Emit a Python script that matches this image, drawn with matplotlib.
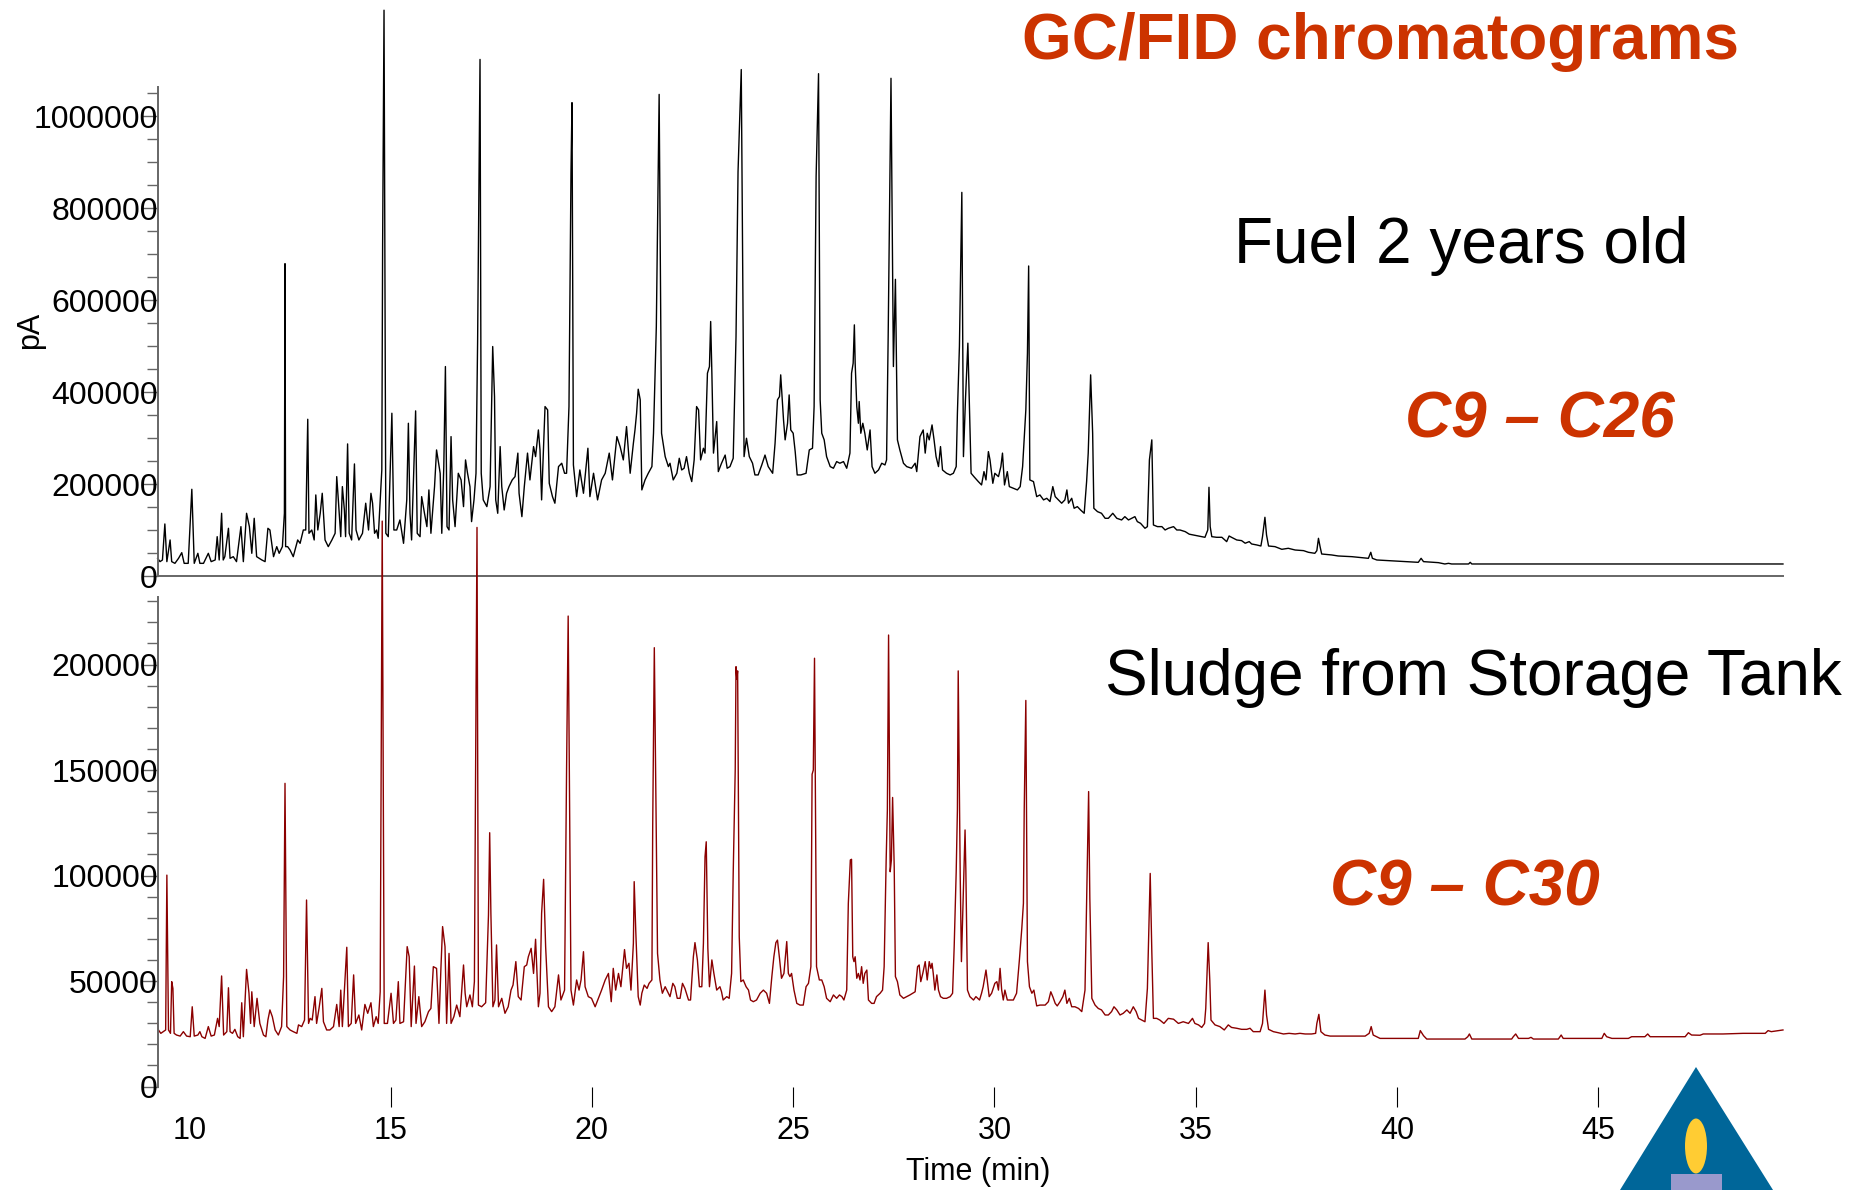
import numpy as np
import matplotlib.pyplot as plt
from matplotlib.patches import Polygon, Ellipse, Rectangle

plt.rcParams['font.family'] = ['Liberation Sans', 'DejaVu Sans']

# Fuel 2 years old: (retention time in min, signal in thousands of pA)
fuel_points = [
    (9.21, 39.5), (9.27, 32.3), (9.33, 35.9), (9.39, 114.2), (9.44, 32.3), (9.52, 79.4),
    (9.56, 32.3), (9.64, 28.6), (9.73, 39.5), (9.81, 51.8), (9.87, 28.6), (9.97, 28.6),
    (10.06, 189.6), (10.12, 28.6), (10.21, 50.4), (10.26, 28.6), (10.35, 28.6), (10.47, 50.4),
    (10.54, 32.3), (10.64, 35.9), (10.69, 86.6), (10.74, 35.9), (10.80, 137.4), (10.84, 35.9),
    (10.88, 43.1), (10.97, 104.8), (11.01, 39.5), (11.09, 43.1), (11.17, 32.3), (11.28, 108.4),
    (11.34, 32.3), (11.42, 137.4), (11.49, 108.4), (11.55, 50.4), (11.61, 126.5), (11.67, 43.1),
    (11.80, 35.9), (11.88, 32.3), (11.95, 104.8), (12.00, 101.1), (12.09, 43.1), (12.17, 64.9),
    (12.23, 50.4), (12.31, 64.9), (12.36, 137.4), (12.375, 680), (12.39, 64.9), (12.44, 64.9),
    (12.50, 57.6), (12.58, 43.1), (12.69, 79.4), (12.75, 72.1), (12.83, 101.1), (12.89, 101.1),
    (12.94, 341.8), (12.97, 93.9), (13.04, 101.1), (13.10, 79.4), (13.14, 177.3), (13.19, 101.1),
    (13.25, 137.4), (13.30, 180.9), (13.37, 79.4), (13.45, 64.9), (13.54, 79.4), (13.62, 93.9),
    (13.66, 217.1), (13.70, 166.5), (13.76, 86.6), (13.80, 195.4), (13.85, 144.6), (13.88, 86.6),
    (13.93, 288.2), (13.97, 93.9), (14.03, 79.4), (14.10, 244.7), (14.14, 101.1), (14.21, 79.4),
    (14.30, 93.9), (14.38, 159.3), (14.45, 101.1), (14.51, 180.9), (14.55, 159.3), (14.60, 93.9),
    (14.65, 101.1), (14.69, 83.0), (14.78, 231.6), (14.80, 720), (14.835, 1231), (14.88, 93.9),
    (14.94, 86.6), (15.03, 354.9), (15.08, 101.1), (15.15, 101.1), (15.23, 122.9), (15.32, 72.1),
    (15.40, 166.5), (15.44, 333.1), (15.48, 137.4), (15.52, 79.4), (15.62, 360.0), (15.66, 93.9),
    (15.73, 86.6), (15.77, 173.6), (15.84, 137.4), (15.90, 108.4), (15.95, 188.2), (16.00, 93.9),
    (16.09, 195.4), (16.14, 275.1), (16.19, 246.2), (16.23, 224.4), (16.27, 93.9), (16.32, 238.9),
    (16.36, 456.4), (16.40, 108.4), (16.45, 101.1), (16.50, 304.1), (16.54, 166.5), (16.60, 108.4),
    (16.68, 224.4), (16.75, 209.9), (16.81, 151.9), (16.86, 253.4), (16.91, 224.4), (16.97, 195.4),
    (17.01, 119.3), (17.07, 166.5), (17.12, 224.4), (17.16, 510.8), (17.22, 1124), (17.25, 224.4),
    (17.30, 166.5), (17.39, 151.9), (17.47, 195.4), (17.535, 499.9), (17.58, 391.1), (17.61, 166.5),
    (17.66, 137.4), (17.72, 282.4), (17.76, 195.4), (17.82, 144.6), (17.88, 180.9), (17.94, 195.4),
    (18.02, 209.9), (18.09, 217.1), (18.16, 268.2), (18.19, 180.9), (18.26, 130.1), (18.32, 195.4),
    (18.40, 268.2), (18.46, 209.9), (18.55, 282.4), (18.60, 260.6), (18.67, 318.6), (18.71, 275.1),
    (18.75, 166.5), (18.835, 369.4), (18.90, 362.1), (18.94, 202.6), (19.02, 173.6), (19.08, 159.3),
    (19.17, 238.9), (19.25, 246.2), (19.32, 224.4), (19.37, 224.4), (19.43, 369.4), (19.48, 879),
    (19.505, 1030), (19.54, 242.5), (19.62, 173.6), (19.70, 231.6), (19.79, 180.9), (19.90, 278.8),
    (19.95, 173.6), (20.04, 224.4), (20.14, 166.5), (20.24, 209.9), (20.33, 224.4), (20.43, 268.2),
    (20.51, 209.9), (20.62, 304.1), (20.70, 282.4), (20.78, 253.4), (20.86, 325.9), (20.95, 224.4),
    (21.03, 289.6), (21.07, 318.6), (21.11, 354.9), (21.15, 407.1), (21.20, 384.1), (21.24, 188.2),
    (21.32, 209.9), (21.40, 224.4), (21.49, 238.9), (21.53, 311.4), (21.60, 543.4), (21.67, 1048),
    (21.73, 311.4), (21.82, 260.6), (21.90, 238.9), (21.94, 246.2), (22.02, 209.9), (22.11, 224.4),
    (22.17, 257.0), (22.23, 231.6), (22.29, 235.3), (22.35, 260.6), (22.42, 224.4), (22.48, 206.3),
    (22.54, 253.4), (22.60, 369.4), (22.65, 362.1), (22.70, 253.4), (22.77, 278.8), (22.81, 268.2),
    (22.87, 441.9), (22.92, 456.4), (22.95, 554.3), (22.98, 441.9), (23.02, 268.2), (23.07, 311.4),
    (23.10, 336.8), (23.14, 228.0), (23.22, 246.2), (23.31, 264.0), (23.36, 235.3), (23.43, 238.9),
    (23.51, 257.0), (23.58, 521.6), (23.63, 880), (23.71, 1102), (23.78, 260.6), (23.84, 300.5),
    (23.91, 260.6), (23.99, 246.2), (24.05, 220.8), (24.13, 220.8), (24.22, 242.5), (24.30, 264.0),
    (24.38, 238.9), (24.49, 224.4), (24.55, 289.6), (24.61, 384.1), (24.66, 391.1), (24.69, 438.3),
    (24.76, 340.4), (24.80, 297.0), (24.86, 333.1), (24.90, 394.7), (24.94, 318.6), (25.00, 311.4),
    (25.05, 271.5), (25.10, 220.8), (25.19, 220.8), (25.32, 224.4), (25.40, 275.1), (25.48, 278.8),
    (25.52, 369.4), (25.57, 870), (25.63, 1093), (25.67, 384.1), (25.71, 311.4), (25.77, 297.0),
    (25.83, 260.6), (25.92, 238.9), (26.00, 235.3), (26.08, 249.8), (26.16, 246.2), (26.25, 249.8),
    (26.33, 235.3), (26.41, 268.2), (26.45, 441.9), (26.49, 463.6), (26.52, 547.0), (26.54, 463.6),
    (26.58, 369.4), (26.62, 333.1), (26.64, 380.3), (26.68, 311.4), (26.73, 333.1), (26.78, 311.4),
    (26.84, 275.1), (26.91, 318.6), (26.96, 238.9), (27.03, 224.4), (27.12, 231.6), (27.20, 246.2),
    (27.28, 242.5), (27.32, 253.4), (27.36, 521.6), (27.43, 1083), (27.49, 456.4), (27.54, 646),
    (27.59, 297.0), (27.65, 275.1), (27.74, 246.2), (27.82, 238.9), (27.94, 235.3), (28.03, 246.2),
    (28.07, 228.0), (28.15, 304.1), (28.23, 318.6), (28.28, 268.2), (28.33, 311.4), (28.38, 297.0),
    (28.45, 329.5), (28.50, 297.0), (28.55, 260.6), (28.61, 238.9), (28.66, 282.4), (28.71, 231.6),
    (28.81, 224.4), (28.90, 220.8), (28.98, 224.4), (29.05, 238.9), (29.08, 354.9), (29.13, 499.9),
    (29.19, 835), (29.23, 260.6), (29.28, 384.1), (29.34, 507.2), (29.38, 369.4), (29.42, 224.4),
    (29.49, 217.1), (29.60, 206.3), (29.68, 199.0), (29.74, 228.0), (29.79, 209.9), (29.85, 271.5),
    (29.89, 253.4), (29.96, 202.6), (30.01, 224.4), (30.10, 217.1), (30.16, 238.9), (30.20, 268.2),
    (30.25, 199.0), (30.32, 228.0), (30.37, 195.4), (30.47, 191.8), (30.57, 188.2), (30.64, 195.4),
    (30.70, 238.9), (30.78, 362.1), (30.82, 485.4), (30.85, 675), (30.88, 209.9), (30.97, 206.3),
    (31.05, 173.6), (31.13, 177.3), (31.22, 166.5), (31.30, 170.0), (31.38, 162.9), (31.45, 195.4),
    (31.51, 173.6), (31.59, 166.5), (31.67, 159.3), (31.75, 166.5), (31.80, 188.2), (31.84, 159.3),
    (31.92, 170.0), (31.98, 148.3), (32.06, 151.9), (32.14, 144.6), (32.23, 137.4), (32.29, 206.3),
    (32.33, 268.2), (32.39, 438.3), (32.44, 311.4), (32.47, 148.3), (32.56, 141.0), (32.66, 137.4),
    (32.75, 126.5), (32.83, 126.5), (32.94, 137.4), (33.04, 126.5), (33.16, 122.9), (33.24, 130.1),
    (33.33, 122.9), (33.41, 126.5), (33.49, 130.1), (33.55, 119.3), (33.63, 115.6), (33.74, 104.8),
    (33.80, 108.4), (33.85, 253.4), (33.91, 297.0), (33.95, 112.0), (34.05, 108.4), (34.16, 108.4),
    (34.24, 101.1), (34.32, 104.8), (34.45, 108.4), (34.53, 101.1), (34.61, 101.1), (34.74, 97.5),
    (34.84, 92.0), (35.23, 85.2), (35.30, 101.1), (35.33, 193.9), (35.36, 108.4), (35.40, 86.6),
    (35.52, 85.2), (35.65, 85.2), (35.77, 75.8), (35.83, 88.1), (35.89, 85.2), (36.02, 79.4),
    (36.14, 78.0), (36.23, 72.3), (36.33, 75.8), (36.39, 70.7), (36.52, 68.5), (36.62, 66.3),
    (36.66, 86.6), (36.72, 128.7), (36.76, 90.3), (36.81, 66.3), (36.97, 64.9), (37.14, 59.1),
    (37.30, 61.3), (37.47, 57.6), (37.68, 56.2), (37.80, 52.6), (37.96, 50.4), (38.01, 56.2),
    (38.05, 83.0), (38.09, 64.9), (38.13, 48.9), (38.38, 46.8), (38.54, 44.6), (38.88, 43.1),
    (39.04, 41.7), (39.29, 39.5), (39.35, 52.6), (39.39, 39.5), (39.50, 35.9), (39.79, 34.4),
    (40.20, 32.3), (40.53, 30.8), (40.60, 39.5), (40.66, 32.3), (41.03, 30.1), (41.19, 27.2),
    (41.28, 28.6), (41.36, 27.2), (41.78, 27.2), (41.82, 30.8), (41.86, 27.2), (49.59, 27.2),
]

# Sludge from storage tank: (retention time in min, signal in thousands of pA)
sludge_points = [
    (9.21, 29.9), (9.23, 26.8), (9.29, 25.2), (9.35, 26.0), (9.41, 26.8), (9.44, 100.2),
    (9.48, 26.8), (9.53, 25.2), (9.56, 49.7), (9.59, 46.5), (9.62, 25.2), (9.68, 24.4),
    (9.77, 23.9), (9.85, 26.0), (9.93, 23.9), (10.02, 23.6), (10.07, 37.8), (10.12, 23.9),
    (10.21, 24.4), (10.26, 26.0), (10.31, 23.6), (10.39, 22.8), (10.47, 28.4), (10.54, 23.9),
    (10.62, 24.4), (10.70, 32.3), (10.74, 28.4), (10.80, 52.4), (10.85, 24.4), (10.93, 26.0),
    (10.97, 46.8), (11.01, 26.0), (11.07, 25.2), (11.13, 27.1), (11.20, 23.6), (11.26, 22.8),
    (11.30, 39.7), (11.34, 23.6), (11.42, 55.5), (11.48, 44.2), (11.52, 29.9), (11.55, 44.9),
    (11.61, 28.4), (11.68, 41.8), (11.75, 29.9), (11.84, 24.4), (11.90, 23.6), (11.95, 31.5),
    (12.00, 36.3), (12.06, 33.1), (12.13, 26.8), (12.21, 24.4), (12.29, 28.4), (12.34, 52.1),
    (12.375, 143.7), (12.42, 28.4), (12.50, 26.8), (12.58, 26.0), (12.67, 25.2), (12.71, 29.2),
    (12.79, 28.4), (12.86, 31.5), (12.91, 88.4), (12.96, 29.9), (13.00, 32.3), (13.05, 31.5),
    (13.12, 42.6), (13.16, 29.9), (13.22, 37.0), (13.29, 46.5), (13.33, 30.7), (13.41, 26.8),
    (13.49, 26.8), (13.58, 28.4), (13.66, 38.9), (13.72, 28.4), (13.76, 45.7), (13.80, 28.4),
    (13.85, 45.7), (13.91, 66.0), (13.95, 28.4), (14.02, 29.9), (14.08, 52.9), (14.13, 29.9),
    (14.21, 33.9), (14.28, 26.8), (14.36, 38.9), (14.43, 34.7), (14.51, 39.7), (14.57, 28.4),
    (14.64, 33.1), (14.69, 29.9), (14.74, 44.9), (14.79, 268), (14.84, 29.9), (14.92, 29.9),
    (15.01, 44.2), (15.07, 29.9), (15.13, 31.5), (15.19, 49.7), (15.23, 29.9), (15.32, 30.7),
    (15.41, 66.3), (15.46, 61.5), (15.51, 28.4), (15.59, 57.1), (15.63, 29.9), (15.70, 42.6),
    (15.77, 28.4), (15.85, 30.7), (15.94, 35.5), (16.00, 37.0), (16.06, 56.8), (16.14, 56.0),
    (16.20, 29.9), (16.25, 56.8), (16.29, 75.8), (16.35, 66.3), (16.39, 29.9), (16.45, 63.1),
    (16.50, 29.9), (16.57, 33.1), (16.64, 38.6), (16.72, 33.1), (16.81, 57.6), (16.85, 44.2),
    (16.89, 37.8), (16.97, 43.4), (17.03, 37.8), (17.08, 49.7), (17.145, 265), (17.18, 38.6),
    (17.26, 37.8), (17.36, 39.7), (17.43, 81.3), (17.46, 120.3), (17.49, 82.1), (17.54, 37.8),
    (17.59, 41.0), (17.63, 67.1), (17.68, 37.8), (17.76, 41.8), (17.84, 34.7), (17.92, 37.8),
    (17.99, 45.7), (18.04, 48.1), (18.11, 59.2), (18.17, 42.6), (18.24, 41.0), (18.32, 56.8),
    (18.38, 57.6), (18.42, 61.5), (18.49, 65.5), (18.55, 53.6), (18.60, 69.8), (18.67, 37.8),
    (18.71, 44.2), (18.75, 82.1), (18.80, 98.2), (18.85, 66.3), (18.92, 37.8), (19.00, 35.5),
    (19.08, 37.8), (19.17, 52.9), (19.23, 41.0), (19.32, 45.7), (19.37, 150.0), (19.41, 223),
    (19.48, 45.7), (19.54, 38.6), (19.62, 50.5), (19.68, 45.7), (19.73, 50.5), (19.79, 63.9),
    (19.83, 47.3), (19.91, 42.6), (19.99, 41.8), (20.08, 37.8), (20.16, 41.8), (20.24, 45.7),
    (20.33, 50.5), (20.41, 53.6), (20.48, 40.2), (20.53, 56.0), (20.59, 45.7), (20.66, 53.6),
    (20.72, 47.3), (20.81, 64.9), (20.86, 56.0), (20.92, 58.4), (20.97, 45.7), (21.03, 67.9),
    (21.05, 97.1), (21.09, 73.4), (21.15, 42.6), (21.20, 38.6), (21.24, 44.2), (21.30, 48.1),
    (21.37, 46.5), (21.42, 48.9), (21.49, 50.5), (21.51, 123.2), (21.55, 208), (21.63, 63.1),
    (21.69, 50.5), (21.75, 44.2), (21.82, 47.3), (21.90, 44.2), (21.94, 42.6), (22.01, 48.9),
    (22.06, 47.3), (22.12, 41.8), (22.19, 41.8), (22.25, 48.9), (22.31, 46.5), (22.40, 41.0),
    (22.45, 41.0), (22.52, 61.5), (22.56, 68.2), (22.62, 60.0), (22.67, 47.3), (22.73, 47.3),
    (22.77, 67.9), (22.81, 108.9), (22.84, 116.0), (22.88, 65.5), (22.92, 47.3), (22.98, 60.0),
    (23.03, 53.6), (23.10, 45.7), (23.18, 47.3), (23.22, 44.9), (23.26, 41.0), (23.35, 42.6),
    (23.41, 41.8), (23.47, 53.6), (23.51, 101.0), (23.56, 150), (23.58, 199), (23.60, 193),
    (23.62, 197), (23.66, 71.0), (23.70, 49.7), (23.76, 50.5), (23.83, 47.3), (23.89, 45.7),
    (23.94, 41.0), (24.01, 40.2), (24.09, 41.0), (24.18, 44.2), (24.26, 45.7), (24.34, 44.2),
    (24.41, 39.4), (24.47, 52.1), (24.52, 61.5), (24.57, 68.2), (24.61, 69.4), (24.66, 60.8),
    (24.71, 51.3), (24.77, 53.6), (24.84, 68.7), (24.88, 53.6), (24.92, 52.1), (24.96, 53.6),
    (25.02, 45.7), (25.09, 39.4), (25.17, 38.6), (25.25, 38.6), (25.32, 47.3), (25.38, 48.9),
    (25.44, 56.8), (25.47, 148), (25.50, 150), (25.53, 203), (25.58, 56.8), (25.65, 50.5),
    (25.71, 50.5), (25.77, 47.3), (25.83, 41.8), (25.92, 40.2), (26.00, 43.4), (26.08, 41.8),
    (26.15, 43.4), (26.21, 42.6), (26.26, 41.0), (26.33, 45.7), (26.37, 86.8), (26.42, 107.4),
    (26.45, 107.7), (26.48, 61.5), (26.51, 59.2), (26.54, 61.5), (26.58, 51.3), (26.62, 53.6),
    (26.66, 50.5), (26.70, 56.8), (26.74, 48.9), (26.78, 53.6), (26.83, 55.2), (26.87, 41.0),
    (26.95, 39.4), (27.01, 39.4), (27.07, 42.6), (27.16, 44.2), (27.22, 45.7), (27.26, 56.8),
    (27.31, 107.4), (27.34, 131.1), (27.37, 214), (27.41, 101.8), (27.44, 107.4), (27.47, 137),
    (27.51, 104.2), (27.54, 52.1), (27.59, 49.7), (27.65, 43.4), (27.74, 41.8), (27.82, 42.6),
    (27.90, 43.4), (28.03, 44.9), (28.09, 56.8), (28.13, 57.6), (28.17, 49.7), (28.22, 53.6),
    (28.28, 59.2), (28.33, 50.5), (28.38, 59.2), (28.42, 56.0), (28.45, 58.4), (28.48, 53.6),
    (28.52, 45.7), (28.57, 52.9), (28.61, 45.7), (28.66, 42.6), (28.73, 41.8), (28.81, 41.8),
    (28.90, 42.6), (28.96, 44.2), (29.00, 66.3), (29.05, 101.8), (29.08, 131.1), (29.10, 197),
    (29.15, 99.5), (29.18, 59.2), (29.21, 79.7), (29.27, 121.6), (29.29, 102.6), (29.33, 45.7),
    (29.39, 42.6), (29.48, 41.0), (29.54, 42.6), (29.63, 41.0), (29.68, 44.2), (29.72, 47.3),
    (29.79, 55.2), (29.83, 48.9), (29.87, 42.6), (29.93, 44.2), (30.01, 48.9), (30.06, 49.7),
    (30.10, 45.7), (30.14, 56.0), (30.18, 45.7), (30.22, 41.0), (30.26, 45.7), (30.32, 41.0),
    (30.39, 41.0), (30.47, 41.0), (30.55, 44.2), (30.62, 60.0), (30.68, 75.0), (30.72, 86.8),
    (30.74, 131.1), (30.78, 183), (30.82, 59.2), (30.87, 47.3), (30.93, 44.2), (30.98, 45.7),
    (31.05, 38.2), (31.13, 38.6), (31.26, 38.6), (31.34, 40.2), (31.40, 44.9), (31.45, 42.6),
    (31.51, 39.4), (31.56, 38.2), (31.63, 40.2), (31.70, 42.6), (31.75, 45.7), (31.80, 39.4),
    (31.86, 41.8), (31.92, 37.8), (32.00, 37.8), (32.09, 37.0), (32.17, 35.5), (32.25, 45.7),
    (32.29, 88.4), (32.34, 139.8), (32.37, 89.2), (32.42, 41.8), (32.50, 38.6), (32.58, 37.0),
    (32.66, 36.3), (32.75, 33.9), (32.83, 33.9), (32.91, 35.5), (32.97, 37.8), (33.04, 36.3),
    (33.12, 33.9), (33.20, 34.7), (33.29, 36.3), (33.37, 34.7), (33.45, 37.8), (33.52, 35.5),
    (33.58, 32.3), (33.66, 31.5), (33.74, 30.7), (33.80, 46.5), (33.87, 101.0), (33.91, 63.9),
    (33.95, 32.3), (34.03, 32.3), (34.11, 31.5), (34.21, 29.9), (34.32, 32.3), (34.45, 31.9),
    (34.57, 29.9), (34.69, 30.7), (34.82, 29.9), (34.92, 32.3), (34.98, 29.9), (35.07, 29.2),
    (35.15, 28.0), (35.22, 29.9), (35.25, 37.0), (35.31, 68.2), (35.35, 50.5), (35.38, 31.5),
    (35.48, 29.2), (35.60, 28.4), (35.71, 26.8), (35.81, 29.2), (35.89, 28.0), (36.02, 27.6),
    (36.14, 27.1), (36.27, 27.1), (36.35, 27.6), (36.43, 26.0), (36.60, 26.0), (36.66, 29.9),
    (36.72, 45.7), (36.76, 33.9), (36.81, 27.1), (36.93, 26.0), (37.05, 25.5), (37.18, 24.9),
    (37.32, 25.2), (37.47, 24.9), (37.59, 25.2), (37.72, 24.9), (37.88, 24.9), (37.98, 25.2),
    (38.01, 29.9), (38.06, 34.2), (38.11, 26.0), (38.21, 24.4), (38.34, 23.9), (38.88, 23.9),
    (39.21, 23.9), (39.31, 25.2), (39.36, 28.4), (39.41, 24.4), (39.58, 22.8), (40.53, 22.8),
    (40.58, 26.5), (40.66, 24.1), (40.74, 22.5), (41.69, 22.5), (41.76, 23.6), (41.80, 24.9),
    (41.86, 22.5), (42.85, 22.5), (42.89, 23.6), (42.95, 24.9), (43.02, 22.8), (43.27, 22.8),
    (43.33, 23.3), (43.39, 22.5), (44.01, 22.5), (44.08, 24.4), (44.13, 22.8), (45.09, 22.8),
    (45.15, 25.2), (45.21, 23.6), (45.34, 22.8), (45.75, 22.8), (45.83, 23.6), (46.16, 23.6),
    (46.23, 24.9), (46.29, 23.6), (47.16, 23.6), (47.24, 25.5), (47.32, 24.4), (47.53, 24.3),
    (47.61, 24.9), (48.10, 24.9), (48.60, 25.2), (49.15, 25.2), (49.22, 26.5), (49.30, 26.0),
    (49.59, 26.8),
]

fuel_t, fuel_k = np.array(fuel_points).T
sludge_t, sludge_k = np.array(sludge_points).T

fuel_ticks = [0, 200000, 400000, 600000, 800000, 1000000]
sludge_ticks = [0, 50000, 100000, 150000, 200000]
time_ticks = [10, 15, 20, 25, 30, 35, 40, 45]

red = '#cc3300'
axis_grey = '#666666'
xlim = (9.212, 49.59)

fig = plt.figure(figsize=(18.6, 11.9), dpi=100)

# upper chromatogram
ax1 = fig.add_axes([0.08478, 0.51555, 0.8738, 0.4117])
ax1.patch.set_alpha(0)
ax1.plot(fuel_t, fuel_k * 1000, color='black', lw=1.0, clip_on=False)
ax1.set_xlim(*xlim)
ax1.set_ylim(0, 1065000)
for s in ['top', 'right']:
    ax1.spines[s].set_visible(False)
ax1.spines['left'].set_color(axis_grey)
ax1.spines['left'].set_linewidth(1.4)
ax1.spines['bottom'].set_color(axis_grey)
ax1.spines['bottom'].set_linewidth(1.4)
ax1.set_xticks([])
ax1.set_yticks(fuel_ticks)
ax1.set_yticklabels([str(v) for v in fuel_ticks])
ax1.set_yticks(np.arange(0, 1050001, 50000), minor=True)
ax1.tick_params(axis='y', which='major', length=11.5, width=1, color=axis_grey,
                labelsize=23, pad=-11.5)
ax1.tick_params(axis='y', which='minor', length=8, width=1, color=axis_grey)

# lower chromatogram
ax2 = fig.add_axes([0.08478, 0.08697, 0.8738, 0.4113])
ax2.patch.set_alpha(0)
ax2.plot(sludge_t, sludge_k * 1000, color='#8b0000', lw=1.0, clip_on=False)
ax2.set_xlim(*xlim)
ax2.set_ylim(0, 232000)
for s in ['top', 'right', 'bottom']:
    ax2.spines[s].set_visible(False)
ax2.spines['left'].set_color(axis_grey)
ax2.spines['left'].set_linewidth(1.4)
ax2.set_yticks(sludge_ticks)
ax2.set_yticklabels([str(v) for v in sludge_ticks])
ax2.set_yticks(np.arange(0, 230001, 10000), minor=True)
ax2.tick_params(axis='y', which='major', length=11.5, width=1, color=axis_grey,
                labelsize=23, pad=-11.5)
ax2.tick_params(axis='y', which='minor', length=8, width=1, color=axis_grey)
ax2.set_xticks(time_ticks)
ax2.set_xticklabels([str(v) for v in time_ticks])
ax2.tick_params(axis='x', length=14.4, width=0.8, color='black', labelsize=22, pad=7)
ax2.xaxis.get_major_ticks()[0].tick1line.set_visible(False)

fig.text(978 / 1860, 1 - 1172 / 1190, 'Time (min)', fontsize=22, ha='center', va='center')
fig.text(30 / 1860, 1 - 330 / 1190, 'pA', fontsize=22, rotation=90, ha='center', va='center')

# headings
fig.text(1022 / 1860, 1 - 59 / 1190, 'GC/FID chromatograms', fontsize=46,
         fontweight='bold', color=red, ha='left', va='baseline')
fig.text(1234 / 1860, 1 - 263 / 1190, 'Fuel 2 years old', fontsize=46,
         color='black', ha='left', va='baseline')
fig.text(1405 / 1860, 1 - 437 / 1190, 'C9 \u2013 C26', fontsize=46, fontweight='bold',
         fontstyle='italic', color=red, ha='left', va='baseline')
fig.text(1105 / 1860, 1 - 695 / 1190, 'Sludge from Storage Tank', fontsize=46,
         color='black', ha='left', va='baseline')
fig.text(1330 / 1860, 1 - 906 / 1190, 'C9 \u2013 C30', fontsize=46, fontweight='bold',
         fontstyle='italic', color=red, ha='left', va='baseline')

# logo in the corner
W, H = 1860, 1190
tri = Polygon([(1620 / W, 0), (1696 / W, 1 - 1067 / H), (1773 / W, 0)],
              closed=True, transform=fig.transFigure, facecolor='#006699', edgecolor='none')
flame = Ellipse((1696 / W, 1 - 1146 / H), 22 / W, 55 / H, transform=fig.transFigure,
                facecolor='#ffcc33', edgecolor='none')
candle = Rectangle((1671 / W, 0), 51 / W, 16 / H, transform=fig.transFigure,
                   facecolor='#9999cc', edgecolor='none')
for p in (tri, flame, candle):
    fig.add_artist(p)

fig.savefig('out.png', dpi=100, facecolor='white')
